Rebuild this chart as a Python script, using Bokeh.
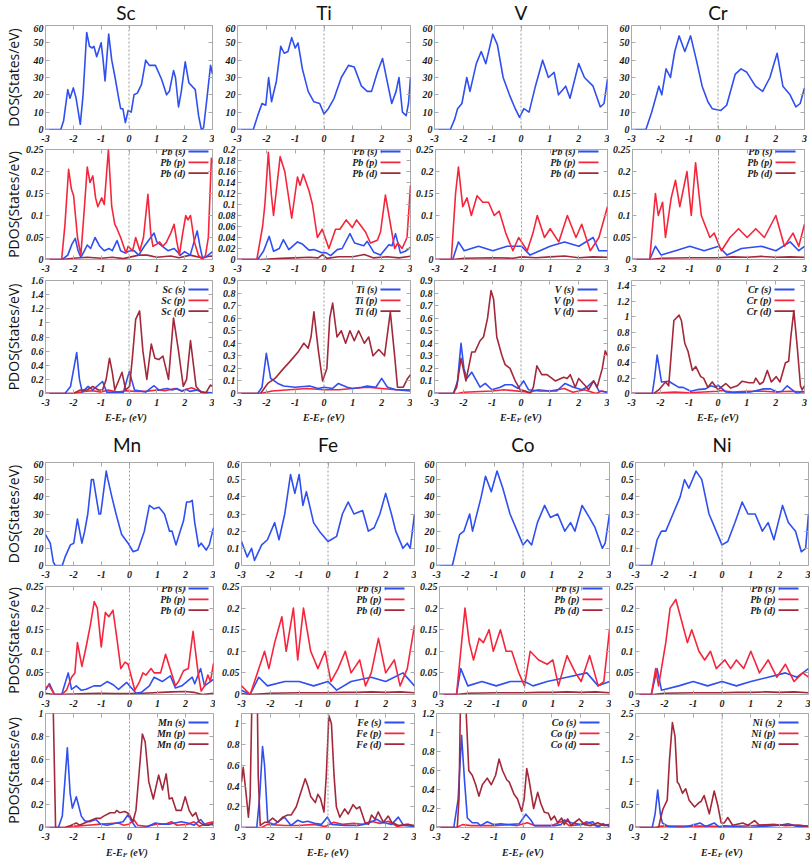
from bokeh.plotting import figure
from bokeh.layouts import column, row
from bokeh.models import (Label, Arrow, Span, FixedTicker, Range1d, CustomJSTickFormatter,
                          LinearAxis)
from bokeh.embed import file_html
from bokeh.resources import INLINE

# ---------------- data (energy E-EF in eV, value) ----------------
X_TICKS = [-3, -2, -1, 0, 1, 2, 3]
T60 = [0, 10, 20, 30, 40, 50, 60]
T06 = [0, 0.1, 0.2, 0.3, 0.4, 0.5, 0.6]
T025 = [0, 0.05, 0.1, 0.15, 0.2, 0.25]
T02 = [0, 0.02, 0.04, 0.06, 0.08, 0.1, 0.12, 0.14, 0.16, 0.18, 0.2]
T16 = [0, 0.2, 0.4, 0.6, 0.8, 1, 1.2, 1.4, 1.6]
T09 = [0, 0.1, 0.2, 0.3, 0.4, 0.5, 0.6, 0.7, 0.8, 0.9]
T14 = [0, 0.2, 0.4, 0.6, 0.8, 1, 1.2, 1.4]
T10 = [0, 0.2, 0.4, 0.6, 0.8, 1]
T12 = [0, 0.2, 0.4, 0.6, 0.8, 1, 1.2]
T25 = [0, 0.5, 1, 1.5, 2, 2.5]

# ---- Sc ----
SC_DOS = [(-3,0),(-2.45,0),(-2.35,5),(-2.2,23),(-2.12,18),(-2.0,24),(-1.9,18),(-1.75,3),(-1.65,20),(-1.52,56),(-1.42,48),(-1.32,47),(-1.26,48),(-1.16,42),(-1.0,50),(-0.93,40),(-0.86,28),(-0.73,55),(-0.62,40),(-0.5,30),(-0.37,18),(-0.3,12),(-0.22,12),(-0.13,4),(-0.03,11),(0.08,10),(0.18,20),(0.3,21),(0.45,26),(0.6,40),(0.73,37),(0.95,37),(1.17,29),(1.35,20),(1.45,22),(1.6,34),(1.67,30),(1.78,13),(1.88,22),(2.02,39),(2.15,27),(2.38,23),(2.5,8),(2.6,0),(2.68,1),(2.8,18),(2.93,37),(3.0,32)]
SC_PB_S = [(-3,0),(-2.4,0),(-2.2,0.01),(-2.05,0.035),(-1.93,0.048),(-1.83,0.02),(-1.73,0.005),(-1.6,0.02),(-1.5,0.033),(-1.38,0.025),(-1.22,0.05),(-1.05,0.03),(-0.89,0.02),(-0.72,0.025),(-0.6,0.02),(-0.43,0.043),(-0.3,0.02),(-0.15,0.015),(0.04,0.02),(0.18,0.02),(0.35,0.01),(0.55,0.03),(0.9,0.06),(1.0,0.04),(1.2,0.03),(1.4,0.02),(1.62,0.025),(1.85,0.01),(2.0,0.018),(2.2,0.01),(2.45,0.065),(2.55,0.03),(2.64,0.003),(2.75,0.005),(3.0,0.018)]
SC_PB_P = [(-3,0),(-2.42,0),(-2.3,0.08),(-2.17,0.205),(-2.07,0.16),(-1.99,0.145),(-1.85,0.05),(-1.73,0.01),(-1.6,0.12),(-1.5,0.21),(-1.4,0.175),(-1.3,0.19),(-1.2,0.14),(-1.12,0.12),(-0.98,0.14),(-0.89,0.125),(-0.74,0.25),(-0.62,0.12),(-0.51,0.08),(-0.43,0.07),(-0.3,0.05),(-0.11,0.015),(-0.03,0.03),(0.13,0.02),(0.24,0.05),(0.39,0.02),(0.52,0.05),(0.68,0.148),(0.78,0.06),(0.86,0.03),(1.0,0.035),(1.1,0.04),(1.22,0.03),(1.35,0.04),(1.5,0.06),(1.62,0.08),(1.72,0.04),(1.81,0.01),(1.93,0.06),(2.04,0.1),(2.12,0.09),(2.21,0.1),(2.35,0.04),(2.49,0.01),(2.64,0),(2.75,0.01),(2.85,0.05),(2.96,0.23),(3.0,0.22)]
SC_PB_D = [(-3,0),(-2.4,0),(-2.0,0.003),(-1.5,0.005),(-1.0,0.003),(-0.6,0.005),(-0.2,0.002),(0.35,0.01),(0.65,0.01),(1.0,0.005),(1.5,0.008),(1.8,0.004),(2.2,0.01),(2.6,0.004),(2.95,0.008),(3,0.007)]
SC_S = [(-3,0),(-2.3,0),(-2.1,0.1),(-1.88,0.58),(-1.78,0.2),(-1.68,0.02),(-1.47,0.1),(-1.3,0.05),(-0.95,0.17),(-0.8,0.02),(-0.2,0.02),(0.01,0.31),(0.2,0.05),(0.6,0.02),(0.9,0.11),(1.07,0.05),(1.37,0.07),(1.55,0.05),(1.72,0.07),(1.9,0.03),(2.06,0.06),(2.18,0.03),(2.47,0.05),(2.7,0.01),(3,0.01)]
SC_P = [(-3,0),(-2.0,0),(-1.6,0.03),(-1.3,0.04),(-1.0,0.02),(-0.75,0.05),(-0.4,0.02),(-0.1,0.04),(0.2,0.03),(0.6,0.03),(1.0,0.05),(1.3,0.04),(1.65,0.07),(1.9,0.04),(2.25,0.08),(2.6,0.02),(3,0.01)]
SC_D = [(-3,0),(-2.0,0),(-1.75,0.05),(-1.5,0.05),(-1.3,0.1),(-1.1,0.05),(-0.95,0.05),(-0.82,0.2),(-0.7,0.5),(-0.6,0.3),(-0.51,0.05),(-0.25,0.3),(-0.12,0.05),(0.02,0.1),(0.12,0.5),(0.24,1.05),(0.38,1.17),(0.5,0.6),(0.64,0.2),(0.8,0.7),(0.93,0.5),(1.07,0.48),(1.22,0.53),(1.42,0.2),(1.6,1.07),(1.78,0.6),(1.95,0.1),(2.07,0.2),(2.21,0.75),(2.41,0.1),(2.58,0.02),(2.76,0.01),(2.93,0.12),(3.0,0.1)]

# ---- Ti ----
TI_DOS = [(-3,0),(-2.45,0),(-2.3,8),(-2.15,15),(-2.02,14),(-1.92,30),(-1.82,16),(-1.65,28),(-1.5,48),(-1.38,44),(-1.25,45),(-1.12,53),(-1.0,47),(-0.9,50),(-0.75,35),(-0.55,22),(-0.35,16),(-0.15,15),(0.0,9),(0.15,12),(0.35,18),(0.6,30),(0.85,37),(1.05,36),(1.3,25),(1.5,22),(1.65,22),(1.85,33),(2.03,41),(2.2,27),(2.35,15),(2.5,22),(2.6,30),(2.72,10),(2.85,8),(2.93,15),(3.0,30)]
TI_PB_S = [(-3,0),(-2.3,0),(-2.1,0.015),(-1.9,0.042),(-1.75,0.015),(-1.55,0.02),(-1.41,0.036),(-1.22,0.018),(-0.92,0.032),(-0.75,0.028),(-0.52,0.017),(-0.35,0.018),(-0.12,0.013),(0.08,0.012),(0.23,0.007),(0.46,0.018),(0.63,0.02),(0.9,0.047),(1.06,0.03),(1.38,0.025),(1.5,0.033),(1.73,0.013),(1.96,0.008),(2.25,0.027),(2.36,0.025),(2.48,0.047),(2.65,0.012),(2.82,0.015),(3.0,0.022)]
TI_PB_P = [(-3,0),(-2.33,0),(-2.13,0.06),(-2.05,0.1),(-1.93,0.195),(-1.83,0.12),(-1.75,0.08),(-1.52,0.187),(-1.36,0.16),(-1.12,0.075),(-0.92,0.15),(-0.83,0.135),(-0.72,0.155),(-0.52,0.125),(-0.4,0.1),(-0.23,0.04),(-0.06,0.055),(0.17,0.02),(0.4,0.055),(0.55,0.055),(0.77,0.072),(0.98,0.058),(1.13,0.072),(1.44,0.05),(1.61,0.03),(1.85,0.035),(1.96,0.05),(2.13,0.117),(2.45,0.02),(2.56,0.03),(2.71,0.02),(2.88,0.04),(3.0,0.135)]
TI_PB_D = [(-3,0),(-2.2,0),(-1.5,0.002),(-1.0,0.003),(-0.5,0.004),(-0.2,0.003),(-0.05,0.009),(0.1,0.002),(0.5,0.005),(1.0,0.005),(1.4,0.009),(1.7,0.003),(2.2,0.005),(2.6,0.003),(3,0.006)]
TI_S = [(-3,0),(-2.3,0),(-2.15,0.05),(-2.0,0.32),(-1.85,0.12),(-1.6,0.08),(-1.4,0.06),(-1.0,0.05),(-0.5,0.06),(-0.2,0.04),(0.0,0.05),(0.3,0.04),(0.5,0.08),(0.8,0.05),(1.0,0.04),(1.3,0.05),(1.5,0.06),(1.8,0.05),(2.0,0.12),(2.2,0.05),(2.5,0.03),(3,0.02)]
TI_P = [(-3,0),(-2.2,0),(-1.8,0.02),(-1.2,0.03),(-0.6,0.04),(0.0,0.03),(0.5,0.03),(1.0,0.04),(1.5,0.05),(2.0,0.04),(2.5,0.03),(3,0.03)]
TI_D = [(-3,0),(-2.2,0),(-1.95,0.08),(-1.7,0.12),(-1.4,0.2),(-1.2,0.25),(-0.9,0.33),(-0.7,0.4),(-0.55,0.36),(-0.45,0.45),(-0.35,0.65),(-0.2,0.35),(-0.05,0.1),(0.1,0.2),(0.2,0.6),(0.3,0.72),(0.45,0.45),(0.6,0.5),(0.75,0.4),(0.9,0.5),(1.05,0.42),(1.2,0.5),(1.4,0.4),(1.55,0.45),(1.7,0.3),(1.9,0.35),(2.1,0.3),(2.3,0.65),(2.45,0.3),(2.55,0.05),(2.75,0.05),(2.9,0.12),(3.0,0.15)]

# ---- V ----
V_DOS = [(-3,0),(-2.45,0),(-2.3,6),(-2.2,12),(-2.05,15),(-1.88,30),(-1.77,22),(-1.55,38),(-1.38,45),(-1.22,38),(-0.98,55),(-0.82,49),(-0.62,30),(-0.4,20),(-0.2,12),(-0.05,7),(0.1,12),(0.28,10),(0.5,25),(0.75,40),(0.95,30),(1.15,33),(1.3,20),(1.55,25),(1.7,18),(2.0,38),(2.2,30),(2.5,25),(2.75,13),(2.88,15),(3.0,29)]
V_PB_S = [(-3,0),(-2.4,0),(-2.2,0.04),(-2.0,0.02),(-1.5,0.03),(-1.0,0.02),(-0.5,0.03),(0.0,0.03),(0.3,0.01),(1.0,0.03),(1.5,0.04),(2.0,0.03),(2.5,0.05),(2.7,0.02),(3,0.02)]
V_PB_P = [(-3,0),(-2.45,0),(-2.3,0.15),(-2.2,0.21),(-2.05,0.12),(-1.9,0.14),(-1.75,0.1),(-1.55,0.145),(-1.35,0.13),(-1.15,0.13),(-0.95,0.1),(-0.78,0.11),(-0.55,0.06),(-0.3,0.02),(-0.1,0.05),(0.2,0.02),(0.4,0.06),(0.55,0.1),(0.8,0.05),(1.0,0.07),(1.3,0.04),(1.6,0.1),(1.9,0.05),(2.1,0.08),(2.4,0.02),(2.7,0.05),(3.0,0.12)]
V_PB_D = [(-3,0),(-2.4,0),(-2.0,0.003),(-1.0,0.004),(-0.3,0.003),(0.0,0.006),(0.5,0.004),(1.0,0.006),(1.5,0.008),(2.0,0.004),(2.5,0.006),(3,0.005)]
V_S = [(-3,0),(-2.34,0),(-2.2,0.1),(-2.08,0.4),(-1.98,0.2),(-1.88,0.12),(-1.71,0.17),(-1.42,0.05),(-1.24,0.08),(-1.01,0.03),(-0.72,0.05),(-0.55,0.07),(-0.32,0.07),(-0.1,0.04),(0.09,0.1),(0.26,0.03),(0.66,0.02),(1.24,0.02),(1.53,0.08),(1.82,0.05),(2.11,0.03),(2.28,0.05),(2.52,0.1),(2.7,0.02),(3,0.01)]
V_P = [(-3,0),(-2.2,0),(-2.0,0.01),(-1.0,0.02),(-0.6,0.03),(0.3,0.01),(0.6,0.03),(1.0,0.02),(1.5,0.04),(1.8,0.01),(2.2,0.03),(2.6,0.0),(2.8,0.02),(3,0.01)]
V_D = [(-3,0),(-2.35,0),(-2.23,0.05),(-2.08,0.28),(-1.91,0.1),(-1.71,0.33),(-1.6,0.33),(-1.42,0.42),(-1.3,0.45),(-1.16,0.6),(-1.04,0.82),(-0.95,0.75),(-0.84,0.45),(-0.66,0.3),(-0.55,0.23),(-0.38,0.2),(-0.2,0.1),(-0.03,0.03),(0.15,0.02),(0.32,0.0),(0.43,0.05),(0.55,0.22),(0.72,0.15),(0.9,0.15),(1.19,0.1),(1.48,0.13),(1.6,0.12),(1.71,0.15),(1.88,0.05),(2.0,0.12),(2.28,0.05),(2.34,0.03),(2.52,0.1),(2.64,0.05),(2.82,0.2),(2.92,0.34),(3.0,0.3)]

# ---- Cr ----
CR_DOS = [(-3,0),(-2.5,0),(-2.3,10),(-2.05,25),(-1.95,20),(-1.8,35),(-1.65,30),(-1.5,45),(-1.35,54),(-1.15,45),(-0.95,54),(-0.75,40),(-0.55,25),(-0.35,16),(-0.2,12),(0.1,11),(0.3,14),(0.6,32),(0.8,35),(1.0,33),(1.3,25),(1.55,22),(1.8,30),(2.05,44),(2.25,25),(2.5,20),(2.7,13),(2.85,15),(3.0,24)]
CR_PB_S = [(-3,0),(-2.4,0),(-2.2,0.03),(-2.0,0.01),(-1.5,0.02),(-1.0,0.03),(-0.5,0.02),(0.0,0.03),(0.3,0.01),(0.8,0.025),(1.5,0.03),(2.0,0.02),(2.5,0.04),(2.8,0.02),(3,0.03)]
CR_PB_P = [(-3,0),(-2.4,0),(-2.2,0.15),(-2.1,0.1),(-1.95,0.13),(-1.85,0.05),(-1.65,0.14),(-1.5,0.18),(-1.35,0.12),(-1.1,0.2),(-0.95,0.1),(-0.8,0.22),(-0.6,0.1),(-0.3,0.05),(-0.15,0.06),(0.1,0.02),(0.4,0.05),(0.7,0.07),(1.0,0.05),(1.3,0.07),(1.6,0.05),(2.0,0.1),(2.3,0.03),(2.6,0.06),(2.8,0.03),(3.0,0.08)]
CR_PB_D = [(-3,0),(-2.4,0),(-2.0,0.003),(-1.0,0.004),(0.0,0.004),(0.5,0.006),(1.0,0.005),(1.5,0.007),(2.0,0.005),(2.5,0.006),(3,0.005)]
CR_S = [(-3,0),(-2.28,0),(-2.2,0.2),(-2.11,0.5),(-1.96,0.15),(-1.71,0.16),(-1.36,0.08),(-1.21,0.08),(-0.95,0.03),(-0.72,0.05),(-0.43,0.06),(-0.25,0.1),(-0.08,0.08),(0.0,0.11),(0.27,0.02),(0.55,0.01),(1.13,0.02),(1.59,0.06),(1.82,0.06),(2.05,0.02),(2.22,0.03),(2.4,0.1),(2.63,0.03),(2.75,0.0),(2.92,0.03),(3,0.02)]
CR_P = [(-3,0),(-2.2,0),(-2.0,0.01),(-1.5,0.02),(-1.0,0.01),(-0.5,0.02),(0.0,0.03),(0.1,0.04),(0.5,0.02),(1.0,0.03),(1.6,0.03),(2.0,0.02),(2.5,0.03),(3,0.02)]
CR_D = [(-3,0),(-2.22,0),(-2.05,0.05),(-1.82,0.15),(-1.71,0.1),(-1.53,0.95),(-1.35,1.02),(-1.27,0.95),(-1.15,0.65),(-1.04,0.55),(-0.89,0.3),(-0.77,0.35),(-0.6,0.22),(-0.5,0.2),(-0.35,0.08),(-0.2,0.15),(0.0,0.05),(0.27,0.13),(0.44,0.07),(0.67,0.1),(0.84,0.16),(1.07,0.14),(1.24,0.14),(1.31,0.2),(1.45,0.12),(1.57,0.15),(1.71,0.3),(1.85,0.15),(2.02,0.22),(2.15,0.15),(2.34,0.4),(2.45,0.42),(2.53,0.75),(2.63,1.08),(2.75,0.6),(2.86,0.1),(2.92,0.05),(3.0,0.1)]

# ---- Mn ----
MN_DOS = [(-3,18),(-2.83,13),(-2.72,2),(-2.65,0),(-2.4,0),(-2.3,5),(-2.11,12),(-1.99,13),(-1.86,27),(-1.7,13),(-1.6,20),(-1.49,30),(-1.36,50),(-1.29,50),(-1.09,30),(-1.03,30),(-0.83,55),(-0.77,50),(-0.63,40),(-0.48,30),(-0.28,18),(-0.05,13),(0.13,8),(0.3,9),(0.53,20),(0.71,35),(0.88,33),(1.05,34),(1.25,30),(1.43,20),(1.52,20),(1.66,12),(1.81,20),(1.93,26),(2.04,37),(2.16,37),(2.24,38),(2.33,25),(2.47,11),(2.56,13),(2.74,9),(2.85,12),(3.0,22)]
MN_PB_S = [(-3,0.01),(-2.86,0.025),(-2.68,0.0),(-2.42,0),(-2.19,0.05),(-2.07,0.012),(-1.9,0.02),(-1.73,0.01),(-1.55,0.012),(-1.27,0.02),(-1.03,0.02),(-0.8,0.03),(-0.57,0.022),(-0.39,0.012),(-0.1,0.028),(0.07,0.015),(0.24,0.003),(0.42,0.005),(0.71,0.02),(0.88,0.04),(1.17,0.03),(1.46,0.043),(1.64,0.015),(1.87,0.02),(2.24,0.04),(2.33,0.025),(2.54,0.06),(2.68,0.02),(3.0,0.035)]
MN_PB_P = [(-3,0.015),(-2.88,0.022),(-2.68,0.0),(-2.42,0),(-2.25,0.01),(-2.07,0.04),(-1.95,0.05),(-1.86,0.12),(-1.7,0.065),(-1.55,0.11),(-1.4,0.16),(-1.26,0.215),(-1.15,0.2),(-1.01,0.11),(-0.86,0.19),(-0.74,0.18),(-0.59,0.195),(-0.45,0.13),(-0.31,0.06),(-0.16,0.075),(-0.05,0.07),(0.19,0.01),(0.36,0.03),(0.48,0.05),(0.59,0.045),(0.77,0.06),(0.88,0.05),(1.11,0.05),(1.29,0.093),(1.4,0.07),(1.64,0.02),(1.75,0.03),(1.93,0.055),(2.1,0.06),(2.27,0.146),(2.45,0.05),(2.56,0.008),(2.68,0.02),(2.8,0.045),(2.89,0.03),(3.0,0.072)]
MN_PB_D = [(-3,0.003),(-2.7,0.0),(-2.0,0.001),(-1.5,0.002),(-1.0,0.003),(-0.5,0.002),(0.0,0.002),(0.5,0.003),(1.5,0.006),(2.0,0.007),(2.3,0.005),(2.6,0.0),(3,0.003)]
MN_S = [(-3,0),(-2.54,0),(-2.4,0.1),(-2.22,0.7),(-2.12,0.3),(-2.04,0.17),(-1.9,0.27),(-1.72,0.1),(-1.6,0.06),(-1.43,0.05),(-1.2,0.07),(-1.04,0.03),(-0.8,0.02),(-0.46,0.04),(-0.23,0.05),(-0.06,0.11),(0.09,0.05),(0.23,0.0),(0.58,0.0),(0.92,0.04),(1.15,0.03),(1.44,0.03),(1.85,0.05),(2.08,0.04),(2.31,0.02),(2.54,0.07),(2.71,0.02),(2.88,0.03),(3.0,0.02)]
MN_P = [(-3,0),(-2.2,0),(-2.0,0.01),(-1.5,0.02),(-1.0,0.03),(-0.4,0.04),(-0.2,0.02),(0.0,0.03),(0.15,0.07),(0.3,0.02),(0.6,0.01),(1.0,0.03),(1.3,0.03),(1.5,0.05),(1.7,0.02),(2.1,0.03),(2.3,0.05),(2.5,0.01),(2.8,0.04),(3,0.05)]
MN_D = [(-2.9,3.5),(-2.72,1.0),(-2.64,0.0),(-2.3,0),(-2.08,0.02),(-1.9,0.04),(-1.79,0.02),(-1.5,0.05),(-1.21,0.08),(-1.04,0.08),(-0.92,0.1),(-0.69,0.13),(-0.52,0.13),(-0.46,0.15),(-0.35,0.13),(-0.17,0.14),(-0.02,0.12),(0.12,0.05),(0.23,0.15),(0.35,0.5),(0.46,0.82),(0.56,0.75),(0.69,0.4),(0.85,0.25),(1.04,0.46),(1.18,0.33),(1.31,0.47),(1.42,0.25),(1.52,0.26),(1.67,0.15),(1.85,0.15),(1.99,0.27),(2.13,0.15),(2.25,0.1),(2.37,0.13),(2.48,0.05),(2.65,0.02),(2.83,0.02),(3.0,0.04)]

# ---- Fe ----
FE_DOS = [(-3,0.14),(-2.8,0.05),(-2.65,0.1),(-2.55,0.03),(-2.3,0.12),(-2.1,0.15),(-1.85,0.25),(-1.7,0.15),(-1.5,0.3),(-1.3,0.53),(-1.15,0.42),(-1.0,0.53),(-0.87,0.35),(-0.75,0.43),(-0.5,0.25),(-0.3,0.2),(0.0,0.14),(0.3,0.17),(0.5,0.3),(0.7,0.37),(0.9,0.3),(1.2,0.32),(1.4,0.2),(1.6,0.22),(1.8,0.3),(2.0,0.42),(2.2,0.3),(2.35,0.2),(2.6,0.1),(2.75,0.13),(2.85,0.1),(3.0,0.3)]
FE_PB_S = [(-3,0.01),(-2.7,0.0),(-2.4,0.04),(-2.1,0.02),(-1.5,0.03),(-1.0,0.03),(-0.5,0.02),(0.0,0.03),(0.3,0.01),(0.8,0.03),(1.5,0.04),(2.0,0.03),(2.6,0.05),(3,0.02)]
FE_PB_P = [(-3,0.02),(-2.7,0.0),(-2.45,0.05),(-2.2,0.1),(-2.05,0.06),(-1.85,0.12),(-1.6,0.18),(-1.45,0.1),(-1.2,0.2),(-1.05,0.08),(-0.85,0.2),(-0.6,0.1),(-0.35,0.06),(-0.1,0.1),(0.1,0.03),(0.35,0.06),(0.6,0.1),(0.8,0.05),(1.1,0.08),(1.3,0.02),(1.5,0.05),(1.75,0.13),(2.0,0.05),(2.3,0.08),(2.5,0.02),(2.75,0.06),(3.0,0.16)]
FE_PB_D = [(-3,0.002),(-2.7,0.0),(-2.0,0.003),(-1.0,0.004),(0.0,0.004),(0.5,0.005),(1.0,0.005),(1.5,0.006),(2.0,0.005),(2.5,0.006),(3,0.004)]
FE_S = [(-3,0),(-2.47,0),(-2.37,0.3),(-2.27,0.78),(-2.2,0.6),(-2.09,0.05),(-1.86,0.03),(-1.51,0.1),(-1.28,0.02),(-1.05,0.07),(-0.88,0.05),(-0.7,0.06),(-0.47,0.04),(-0.23,0.03),(-0.02,0.1),(0.12,0.03),(0.58,0.02),(1.05,0.02),(1.4,0.04),(1.69,0.08),(1.86,0.05),(2.21,0.03),(2.44,0.1),(2.62,0.02),(3.0,0.01)]
FE_P = [(-3,0),(-2.3,0),(-2.1,0.03),(-1.5,0.02),(-1.0,0.02),(-0.5,0.03),(-0.1,0.01),(0.2,0.05),(0.5,0.03),(0.9,0.04),(1.2,0.03),(1.5,0.06),(1.8,0.04),(2.1,0.06),(2.4,0.01),(2.8,0.03),(3,0.01)]
FE_D = [(-3,0.44),(-2.94,0.58),(-2.85,0.35),(-2.76,0.1),(-2.7,0.3),(-2.64,1.2),(-2.55,1.8),(-2.45,1.2),(-2.42,0.5),(-2.35,0.02),(-2.2,0.05),(-2.09,0.05),(-1.92,0.09),(-1.74,0.05),(-1.57,0.1),(-1.4,0.12),(-1.28,0.12),(-1.1,0.2),(-0.93,0.35),(-0.79,0.47),(-0.7,0.4),(-0.6,0.3),(-0.52,0.27),(-0.44,0.24),(-0.35,0.32),(-0.26,0.28),(-0.14,0.15),(-0.06,0.5),(0.03,1.08),(0.12,1.0),(0.21,0.5),(0.29,0.2),(0.41,0.1),(0.58,0.18),(0.7,0.13),(0.87,0.22),(0.99,0.18),(1.1,0.2),(1.28,0.05),(1.4,0.03),(1.51,0.12),(1.63,0.08),(1.74,0.15),(1.92,0.05),(2.09,0.11),(2.21,0.05),(2.44,0.02),(2.73,0.03),(3.0,0.02)]

# ---- Co ----
CO_DOS = [(-3,0),(-2.45,0),(-2.2,18),(-2.05,20),(-1.85,30),(-1.75,20),(-1.45,40),(-1.3,52),(-1.1,43),(-0.9,55),(-0.7,45),(-0.45,30),(-0.2,20),(0.0,12),(0.15,15),(0.3,12),(0.5,25),(0.75,35),(0.95,28),(1.2,30),(1.45,20),(1.65,25),(1.8,20),(2.05,35),(2.3,28),(2.5,22),(2.75,10),(2.85,13),(3.0,30)]
CO_PB_S = [(-3,0),(-2.4,0),(-2.25,0.06),(-2.0,0.02),(-1.5,0.03),(-1.0,0.02),(-0.5,0.03),(0.0,0.03),(0.3,0.02),(0.8,0.03),(1.5,0.04),(2.2,0.05),(2.6,0.02),(3,0.03)]
CO_PB_P = [(-3,0),(-2.4,0),(-2.25,0.1),(-2.1,0.2),(-1.95,0.12),(-1.8,0.08),(-1.6,0.13),(-1.45,0.12),(-1.25,0.15),(-1.1,0.1),(-0.85,0.15),(-0.65,0.1),(-0.45,0.1),(-0.2,0.05),(0.0,0.02),(0.2,0.1),(0.5,0.08),(0.8,0.07),(1.0,0.08),(1.2,0.02),(1.5,0.09),(1.8,0.05),(2.0,0.03),(2.3,0.09),(2.6,0.02),(2.8,0.03),(3.0,0.15)]
CO_PB_D = [(-3,0),(-2.4,0),(-2.0,0.003),(-1.0,0.004),(0.0,0.004),(0.5,0.005),(1.0,0.005),(1.5,0.006),(2.0,0.005),(2.5,0.006),(3,0.004)]
CO_S = [(-3,0),(-2.4,0),(-2.25,0.3),(-2.13,0.97),(-2.03,0.5),(-1.93,0.1),(-1.76,0.05),(-1.58,0.05),(-1.47,0.02),(-1.24,0.06),(-1.0,0.03),(-0.77,0.04),(-0.54,0.03),(-0.13,0.04),(0.1,0.14),(0.27,0.08),(0.39,0.02),(0.74,0.02),(1.09,0.02),(1.32,0.03),(1.43,0.08),(1.67,0.05),(2.01,0.03),(2.42,0.06),(2.6,0.0),(2.77,0.04),(3.0,0.01)]
CO_P = [(-3,0),(-2.3,0),(-2.1,0.03),(-1.8,0.02),(-1.0,0.02),(-0.5,0.03),(-0.2,0.02),(0.15,0.05),(0.4,0.02),(1.0,0.02),(1.4,0.07),(1.6,0.02),(2.0,0.03),(2.2,0.06),(2.5,0.02),(3,0.03)]
CO_D = [(-3,0),(-2.28,0),(-2.22,0.3),(-2.17,1.3),(-2.05,1.8),(-1.97,1.2),(-1.88,0.6),(-1.76,0.55),(-1.64,0.45),(-1.53,0.33),(-1.41,0.45),(-1.24,0.52),(-1.1,0.45),(-0.95,0.55),(-0.83,0.72),(-0.71,0.6),(-0.56,0.5),(-0.48,0.48),(-0.31,0.35),(-0.19,0.3),(-0.05,0.17),(0.04,0.3),(0.13,0.62),(0.21,0.5),(0.37,0.2),(0.51,0.37),(0.62,0.25),(0.74,0.16),(0.88,0.15),(0.97,0.08),(1.09,0.12),(1.2,0.05),(1.34,0.1),(1.43,0.03),(1.55,0.09),(1.67,0.02),(1.78,0.05),(1.95,0.09),(2.13,0.03),(2.36,0.02),(2.59,0.05),(2.82,0.02),(3.0,0.03)]

# ---- Ni ----
NI_DOS = [(-3,0),(-2.45,0),(-2.25,0.15),(-2.1,0.2),(-1.95,0.2),(-1.7,0.3),(-1.45,0.4),(-1.3,0.5),(-1.15,0.45),(-0.9,0.55),(-0.7,0.5),(-0.45,0.3),(-0.2,0.2),(0.0,0.12),(0.2,0.14),(0.45,0.25),(0.7,0.37),(0.9,0.3),(1.15,0.3),(1.4,0.2),(1.6,0.25),(1.8,0.15),(2.1,0.35),(2.3,0.25),(2.55,0.2),(2.75,0.08),(2.9,0.1),(3.0,0.3)]
NI_PB_S = [(-3,0),(-2.45,0),(-2.25,0.06),(-2.1,0.01),(-1.5,0.02),(-1.0,0.03),(-0.5,0.02),(0.0,0.03),(0.5,0.02),(1.0,0.03),(1.6,0.04),(2.2,0.05),(2.6,0.04),(3,0.06)]
NI_PB_P = [(-3,0),(-2.45,0),(-2.3,0.06),(-2.2,0.02),(-1.95,0.12),(-1.8,0.2),(-1.6,0.22),(-1.4,0.17),(-1.2,0.12),(-1.05,0.15),(-0.8,0.1),(-0.6,0.08),(-0.4,0.1),(-0.2,0.06),(0.1,0.08),(0.3,0.06),(0.5,0.08),(0.75,0.06),(1.0,0.1),(1.3,0.05),(1.6,0.08),(1.9,0.04),(2.2,0.07),(2.5,0.03),(2.8,0.05),(3.0,0.04)]
NI_PB_D = [(-3,0),(-2.4,0),(-2.0,0.003),(-1.0,0.004),(0.0,0.004),(0.5,0.005),(1.0,0.005),(1.5,0.006),(2.0,0.005),(2.5,0.006),(3,0.004)]
NI_S = [(-3,0),(-2.42,0),(-2.32,0.3),(-2.23,0.82),(-2.14,0.3),(-2.07,0.1),(-1.84,0.02),(-1.37,0.0),(-1.14,0.03),(-0.76,0.1),(-0.56,0.02),(-0.27,0.1),(-0.1,0.01),(0.08,0.04),(0.37,0.02),(0.95,0.0),(1.53,0.03),(2.0,0.05),(2.29,0.08),(2.58,0.03),(3.0,0.02)]
NI_P = [(-3,0),(-2.3,0),(-2.1,0.03),(-1.5,0.03),(-1.0,0.03),(-0.5,0.03),(0.0,0.02),(0.5,0.03),(1.0,0.04),(1.5,0.06),(1.8,0.07),(2.2,0.04),(2.6,0.05),(3,0.03)]
NI_D = [(-3,0),(-2.2,0),(-2.13,0.2),(-2.05,0.4),(-1.9,0.6),(-1.82,1.5),(-1.72,2.3),(-1.63,2.0),(-1.55,1.0),(-1.49,0.95),(-1.37,0.75),(-1.26,0.85),(-1.14,0.6),(-0.95,0.45),(-0.79,0.55),(-0.73,0.57),(-0.62,0.7),(-0.44,0.3),(-0.27,0.8),(-0.15,0.5),(-0.03,0.1),(0.08,0.1),(0.2,0.22),(0.37,0.05),(0.72,0.1),(0.9,0.05),(1.13,0.15),(1.3,0.05),(1.65,0.06),(2.0,0.05),(2.35,0.05),(2.7,0.05),(3.0,0.02)]

ELEMENTS = [
    ("Sc", SC_DOS, 60, T60, (SC_PB_S, SC_PB_P, SC_PB_D), 0.25, T025, (SC_S, SC_P, SC_D), 1.6, T16),
    ("Ti", TI_DOS, 60, T60, (TI_PB_S, TI_PB_P, TI_PB_D), 0.2, T02, (TI_S, TI_P, TI_D), 0.9, T09),
    ("V", V_DOS, 60, T60, (V_PB_S, V_PB_P, V_PB_D), 0.25, T025, (V_S, V_P, V_D), 0.9, T09),
    ("Cr", CR_DOS, 60, T60, (CR_PB_S, CR_PB_P, CR_PB_D), 0.25, T025, (CR_S, CR_P, CR_D), 1.47, T14),
    ("Mn", MN_DOS, 60, T60, (MN_PB_S, MN_PB_P, MN_PB_D), 0.25, T025, (MN_S, MN_P, MN_D), 1.0, T10),
    ("Fe", FE_DOS, 0.6, T06, (FE_PB_S, FE_PB_P, FE_PB_D), 0.25, T025, (FE_S, FE_P, FE_D), 1.1, T10),
    ("Co", CO_DOS, 60, T60, (CO_PB_S, CO_PB_P, CO_PB_D), 0.25, T025, (CO_S, CO_P, CO_D), 1.2, T12),
    ("Ni", NI_DOS, 0.6, T06, (NI_PB_S, NI_PB_P, NI_PB_D), 0.25, T025, (NI_S, NI_P, NI_D), 2.5, T25),
]

# ---------------- styling / layout ----------------
BLUE = "#2f4ff0"
RED = "#f5263c"
DRED = "#a3283a"
FRAME = "#aaaaaa"
TXT = "#1a1a1a"
TICK_FONT = "Liberation Serif"
TITLE_FONT = "Lato"
FW = 173          # frame width
BR = 2            # right border (mirror ticks)
TOTAL_W = 810

BLOCKS = [
    dict(frame_x=[39, 237, 434, 631], title_h=24, title_mid=12,
         dos=(1, 111, 8), pb=(5, 117, 8), tm=(6, 113, 17), xl_h=14),
    dict(frame_x=[40, 241, 436, 635], title_h=36, title_mid=16,
         dos=(2, 110, 8), pb=(6, 115, 8), tm=(4, 114, 17), xl_h=15),
]


def hide_labels(ax):
    ax.major_label_text_color = None
    ax.major_label_text_font_size = "1px"
    ax.major_label_standoff = 0


def style_axis(ax, ticks):
    ax.ticker = FixedTicker(ticks=ticks)
    ax.axis_line_color = None
    ax.major_tick_in = 4
    ax.major_tick_out = 0
    ax.major_tick_line_color = FRAME
    ax.minor_tick_line_color = None
    ax.major_label_text_font = TICK_FONT
    ax.major_label_text_font_style = "bold italic"
    ax.major_label_text_font_size = "10px"
    ax.major_label_text_color = TXT
    ax.formatter = CustomJSTickFormatter(code="return String(tick);")


def base_fig(bl, br, geom, ymax, yticks, show_xlabels):
    bt, fh, bb = geom
    p = figure(width=bl + FW + br, height=bt + fh + bb,
               x_range=Range1d(-3, 3), y_range=Range1d(0, ymax),
               output_backend="svg", toolbar_location=None, tools="",
               min_border_left=bl, min_border_right=br,
               min_border_top=bt, min_border_bottom=bb)
    p.grid.visible = False
    p.outline_line_color = FRAME
    p.outline_line_width = 1
    p.background_fill_color = "white"
    p.border_fill_color = "white"
    style_axis(p.xaxis[0], X_TICKS)
    style_axis(p.yaxis[0], yticks)
    p.yaxis.major_label_standoff = 2
    # mirrored inner ticks on the top and right edges
    ra = LinearAxis()
    style_axis(ra, yticks)
    hide_labels(ra)
    p.add_layout(ra, "right")
    ta = LinearAxis()
    style_axis(ta, X_TICKS)
    hide_labels(ta)
    p.add_layout(ta, "above")
    if show_xlabels:
        p.xaxis[0].major_label_standoff = 5
    else:
        hide_labels(p.xaxis[0])
    p.add_layout(Span(location=0, dimension="height", line_color="#9a9a9a",
                      line_dash="2 2", line_width=1))
    return p


def add_curve(p, pts, color, width=1.6):
    xs = [a for a, _ in pts]
    ys = [b for _, b in pts]
    p.line(xs, ys, line_color=color, line_width=width, line_join="round")


def add_legend(p, fh, labels):
    cols = [BLUE, RED, DRED]
    for i, (lab, c) in enumerate(zip(labels, cols)):
        y = fh - 9 - i * 10.8
        p.add_layout(Label(x=FW - 33, y=y, x_units="screen", y_units="screen",
                           text=lab, text_align="right", text_baseline="middle",
                           text_font=TICK_FONT, text_font_style="bold italic",
                           text_font_size="10px", text_color=TXT))
        p.add_layout(Arrow(x_start=FW - 30, y_start=y, x_end=FW - 10, y_end=y,
                           start_units="screen", end_units="screen", end=None,
                           line_color=c, line_width=1.8))


def set_ylabel(p, text, label_width):
    ax = p.yaxis[0]
    ax.axis_label = text
    ax.axis_label_text_font = "Open Sans"
    ax.axis_label_text_font_style = "normal"
    ax.axis_label_text_font_size = "14px"
    ax.axis_label_text_color = "#111111"
    ax.axis_label_standoff = max(0, int(round(17.5 - label_width)))


def strip_fig(height):
    p = figure(width=TOTAL_W, height=height, x_range=Range1d(0, TOTAL_W),
               y_range=Range1d(0, height), output_backend="svg",
               toolbar_location=None, tools="", x_axis_type=None, y_axis_type=None,
               min_border=0, min_border_left=0, min_border_right=0,
               min_border_top=0, min_border_bottom=0)
    p.grid.visible = False
    p.outline_line_color = None
    p.background_fill_color = "white"
    p.border_fill_color = "white"
    return p


def xlabel_strip(frame_x, h):
    p = strip_fig(h)
    common = dict(x_units="screen", y_units="screen", text_align="left",
                  text_baseline="middle", text_font=TICK_FONT,
                  text_font_style="bold italic", text_color=TXT)
    yc = h / 2
    for fx in frame_x:
        x0 = fx + FW / 2 - 21
        p.add_layout(Label(x=x0, y=yc, text="E-E", text_font_size="10px", **common))
        p.add_layout(Label(x=x0 + 16.7, y=yc - 2.5, text="F", text_font_size="7px", **common))
        p.add_layout(Label(x=x0 + 24.0, y=yc, text="(eV)", text_font_size="10px", **common))
    return p


def title_strip(frame_x, names, h, mid):
    p = strip_fig(h)
    for fx, name in zip(frame_x, names):
        p.add_layout(Label(x=fx + FW / 2, y=mid, x_units="screen", y_units="screen",
                           text=name, text_align="center", text_baseline="middle",
                           text_font=TITLE_FONT, text_font_size="19px",
                           text_color="#111111"))
    return p


rows = []
for b, block in enumerate(BLOCKS):
    fxs = block["frame_x"]
    names = [ELEMENTS[b * 4 + c][0] for c in range(4)]
    rows.append(title_strip(fxs, names, block["title_h"], block["title_mid"]))
    dos_row, pb_row, tm_row = [], [], []
    prev_end = 0
    for col in range(4):
        (name, dos, dmax, dticks, pb, pmax, pticks, tm, tmax, tticks) = ELEMENTS[b * 4 + col]
        bl = fxs[col] - prev_end
        br = BR if col < 3 else TOTAL_W - fxs[col] - FW
        prev_end = fxs[col] + FW + br
        # DOS
        p1 = base_fig(bl, br, block["dos"], dmax, dticks, False)
        add_curve(p1, dos, BLUE)
        # Pb PDOS
        p2 = base_fig(bl, br, block["pb"], pmax, pticks, False)
        add_curve(p2, pb[2], DRED)
        add_curve(p2, pb[0], BLUE)
        add_curve(p2, pb[1], RED)
        add_legend(p2, block["pb"][1], ["Pb (s)", "Pb (p)", "Pb (d)"])
        # TM PDOS
        p3 = base_fig(bl, br, block["tm"], tmax, tticks, True)
        add_curve(p3, tm[1], RED)
        add_curve(p3, tm[0], BLUE)
        add_curve(p3, tm[2], DRED)
        add_legend(p3, block["tm"][1], [f"{name} (s)", f"{name} (p)", f"{name} (d)"])
        if col == 0:
            set_ylabel(p1, "DOS(States/eV)", 10.0 if dmax > 1 else 12.5)
            set_ylabel(p2, "PDOS(States/eV)", 17.5)
            set_ylabel(p3, "PDOS(States/eV)", 12.5)
        dos_row.append(p1)
        pb_row.append(p2)
        tm_row.append(p3)
    rows += [row(dos_row, spacing=0), row(pb_row, spacing=0), row(tm_row, spacing=0)]
    rows.append(xlabel_strip(fxs, block["xl_h"]))

layout = column(rows, spacing=0)
open("out.html", "w").write(file_html(layout, INLINE))
